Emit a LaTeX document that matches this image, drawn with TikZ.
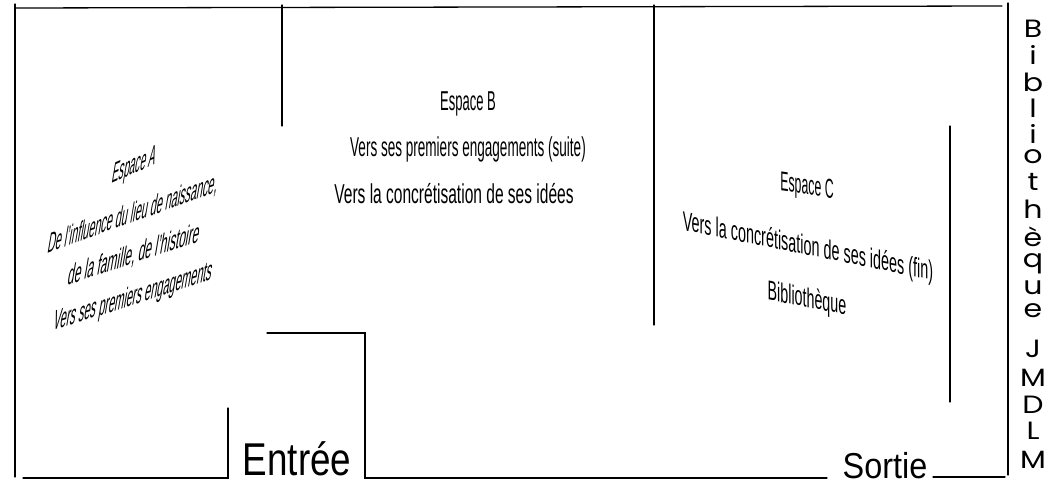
\documentclass[tikz,border=0pt]{standalone}
\usepackage{fontspec}
\setmainfont{Liberation Sans}
\newfontfamily\hand{Poppins}
\tikzset{wall/.style={line width=1.3pt,black,line cap=round},
 lab/.style={yscale=1.3,font=\fontsize{21}{21}\selectfont,inner sep=0pt},
 vert/.style={font=\hand\fontsize{25}{25}\selectfont,inner sep=0pt,anchor=center}}
\begin{document}
\begin{tikzpicture}[x=1pt,y=-1pt]
\useasboundingbox (0,0) rectangle (1058,484);
\fill[white] (0,0) rectangle (1058,484);
\coordinate (a0) at (15,4);\coordinate (a) at (15,8);\coordinate (b) at (1002,6);\coordinate (a2) at (15,477);
\draw[wall] (a)--(b);
\draw[wall] (a0)--(a2);
\coordinate (c1) at (282,5);\coordinate (c2) at (282,126);
\draw[wall] (c1)--(c2);
\coordinate (d1) at (654,5);\coordinate (d2) at (654,325);
\draw[wall] (d1)--(d2);
\coordinate (e1) at (950,126);\coordinate (e2) at (950,402);
\draw[wall] (e1)--(e2);
\coordinate (f1) at (1008,3);\coordinate (f2) at (1008,475);
\draw[wall] (f1)--(f2);
\coordinate (g1) at (23,478);\coordinate (g2) at (228,478);\coordinate (g3) at (228,408);
\draw[wall] (g1)--(g2)--(g3);
\coordinate (h1) at (267,333);\coordinate (h2) at (365,333);\coordinate (h3) at (365,478);\coordinate (h4) at (827,478);
\draw[wall] (h1)--(h2)--(h3)--(h4);
\coordinate (i1) at (933,477);\coordinate (i2) at (1005,477);
\draw[wall] (i1)--(i2);
\node[yslant=.45,xslant=.18,xscale=.48,lab] (a1t) at (134,167) {Espace A};
\node[yslant=.36,xslant=.18,xscale=.515,lab] (a2t) at (133,214) {De l'influence du lieu de naissance,};
\node[yslant=.33,xslant=.18,xscale=.57,lab] (a3t) at (134,255) {de la famille, de l'histoire};
\node[yslant=.32,xslant=.18,xscale=.525,lab] (a4t) at (133,298) {Vers ses premiers engagements};
\node[xscale=.62,lab] (b1t) at (468,104) {Espace B};
\node[xscale=.645,lab] (b2t) at (468,149) {Vers ses premiers engagements (suite)};
\node[xscale=.74,lab] (b3t) at (454,194) {Vers la concrétisation de ses idées};
\node[yslant=-.15,xscale=.585,lab] (c1t) at (807,188) {Espace C};
\node[yslant=-.2,xscale=.685,lab] (c2t) at (808,248) {Vers la concrétisation de ses idées (fin)};
\node[yslant=-.19,xscale=.68,lab] (c3t) at (807,300) {Bibliothèque};
\node[font=\fontsize{46}{46}\selectfont,inner sep=0pt,xscale=0.8] (ent) at (297,459) {Entrée};
\node[font=\fontsize{36}{36}\selectfont,inner sep=0pt,xscale=0.9] (sor) at (885,466) {Sortie};
\foreach \c/\y in {B/29,i/55,b/82,l/108,i/134,o/157,t/182,h/209,è/237,q/264,u/288,e/311,J/349,M/378,D/405,L/431,M/460}{
 \node[vert,xscale=1.2] at (1033,\y) {\c};}
\end{tikzpicture}
\end{document}
